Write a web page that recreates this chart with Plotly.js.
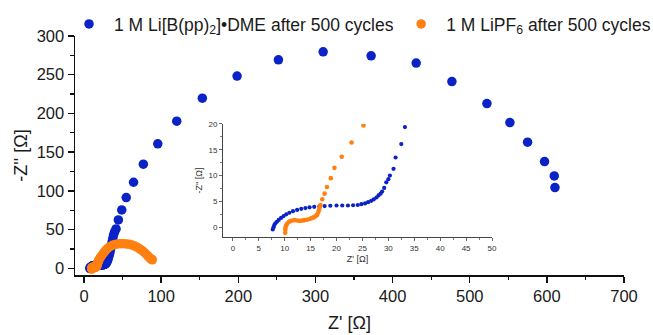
<!DOCTYPE html>
<html>
<head>
<meta charset="utf-8">
<script src="https://cdn.plot.ly/plotly-3.0.1.min.js"></script>
<style>html,body{margin:0;padding:0;background:#fff;}#chart{width:653px;height:335px;}</style>
</head>
<body>
<div id="chart"></div>
<script>
// Series names
const nameBlue = "1 M Li[B(pp)<sub>2</sub>]•DME after 500 cycles";
const nameOrange = "1 M LiPF<sub>6</sub> after 500 cycles";

// 1 M Li[B(pp)2]•DME after 500 cycles : Z' [Ω]
const blueZre = [7.7,7.85,8.0,8.2,8.5,8.85,9.3,9.8,10.3,10.9,11.6,12.4,13.2,14.0,14.8,15.7,16.7,17.7,18.8,20.0,21.1,22.2,23.2,24.1,24.8,25.5,26.1,26.7,27.2,27.7,28.1,28.5,28.8,29.2,29.6,30.0,30.3,31.0,31.4,32.5,33.2,
  34.0,34.8,35.6,36.4,37.3,38.3,39.6,41.5,44.5,48.9,54.7,64.2,76.9,95.6,120.2,153.4,198.4,252.0,310.0,372.2,430.6,476.9,522.3,552.1,575.0,597.0,609.6,610.5];
// -Z'' [Ω]
const blueZim = [-0.45,0.0,0.4,0.75,1.05,1.4,1.8,2.15,2.5,2.8,3.1,3.35,3.55,3.7,3.85,3.95,4.05,4.1,4.15,4.2,4.2,4.2,4.25,4.3,4.45,4.6,4.85,5.1,5.4,5.75,6.15,6.5,6.9,7.6,8.7,9.3,10.0,11.3,13.5,16.1,19.4,
  22.5,26.0,30.0,34.0,38.5,43.0,47.0,50.8,62.4,75.4,91.3,111.1,134.4,160.7,190.0,219.7,248.2,269.2,279.6,274.4,265.0,241.2,212.7,188.2,162.8,137.8,119.3,104.2];

// 1 M LiPF6 after 500 cycles : Z' [Ω]
const orangeZre = [10.1,10.12,10.15,10.3,10.5,10.8,11.1,11.5,11.9,12.4,12.9,13.4,13.8,14.3,14.8,15.2,15.6,15.9,16.2,16.45,16.6,16.75,16.9,17.25,17.7,18.15,18.9,19.6,21.0,22.9,25.2,
  27.8,30.5,33.5,36.8,40.2,43.8,47.5,51.2,54.9,58.6,62.2,65.7,69.0,72.2,75.2,78.0,80.6,82.9,84.9,86.5,87.8,88.5];
// -Z'' [Ω]
const orangeZim = [-1.1,-0.5,-0.06,0.35,0.7,1.0,1.2,1.3,1.36,1.3,1.22,1.28,1.36,1.45,1.6,1.75,1.9,2.1,2.33,2.8,3.3,3.8,4.3,5.4,6.5,7.8,9.5,11.5,13.65,16.4,19.7,
  22.8,25.6,27.9,29.6,30.8,31.5,31.8,31.8,31.5,30.9,29.9,28.6,27.0,25.1,23.0,20.6,18.1,15.7,13.6,12.1,11.5,10.9];

const colBlue = "#0a22c6";
const colOrange = "#ff8010";
const fontFam = "Arial, 'Liberation Sans', sans-serif";

const traces = [
  {x: blueZre, y: blueZim, type: "scatter", mode: "markers", name: nameBlue,
   marker: {color: colBlue, size: 9.5}, xaxis: "x", yaxis: "y", legend: "legend", cliponaxis: false},
  {x: orangeZre, y: orangeZim, type: "scatter", mode: "markers", name: nameOrange,
   marker: {color: colOrange, size: 9.5}, xaxis: "x", yaxis: "y", legend: "legend2", cliponaxis: false},
  {x: blueZre, y: blueZim, type: "scatter", mode: "markers", showlegend: false,
   marker: {color: colBlue, size: 4.2}, xaxis: "x2", yaxis: "y2"},
  {x: orangeZre, y: orangeZim, type: "scatter", mode: "markers", showlegend: false,
   marker: {color: colOrange, size: 4.6}, xaxis: "x2", yaxis: "y2"}
];

const mainAxis = {
  showgrid: false, zeroline: false, showline: true, linecolor: "#111", linewidth: 1.5,
  ticks: "outside", ticklen: 6, tickwidth: 1.5, tickcolor: "#111",
  tickfont: {family: fontFam, size: 16.5, color: "#1a1a1a"},
  minor: {ticks: "outside", ticklen: 3.5, tickwidth: 1.2, tickcolor: "#111", showgrid: false}
};
const insetAxis = {
  showgrid: false, zeroline: false, showline: true, linecolor: "#444", linewidth: 1,
  ticks: "outside", ticklen: 3, tickwidth: 0.8, tickcolor: "#444",
  tickfont: {family: fontFam, size: 8, color: "#333"},
  minor: {ticks: "outside", ticklen: 2, tickwidth: 0.7, tickcolor: "#444", showgrid: false}
};

const layout = {
  width: 653, height: 335,
  margin: {l: 75, r: 29, t: 36, b: 60, autoexpand: false},
  paper_bgcolor: "#fff", plot_bgcolor: "rgba(0,0,0,0)",
  font: {family: fontFam, color: "#1a1a1a"},
  xaxis: Object.assign({}, mainAxis, {
    range: [-11.7, 700], dtick: 100, tick0: 0, minor: Object.assign({}, mainAxis.minor, {dtick: 50}),
    title: {text: "Z' [Ω]", font: {family: fontFam, size: 18, color: "#1a1a1a"}, standoff: 12}
  }),
  yaxis: Object.assign({}, mainAxis, {
    range: [-8.7, 300], dtick: 50, tick0: 0, minor: Object.assign({}, mainAxis.minor, {dtick: 25}),
    title: {text: "-Z'' [Ω]", font: {family: fontFam, size: 18, color: "#1a1a1a"}, standoff: 4}
  }),
  xaxis2: Object.assign({}, insetAxis, {
    domain: [0.2696, 0.7596], anchor: "y2", range: [-1.9, 50], dtick: 5, tick0: 0,
    minor: Object.assign({}, insetAxis.minor, {dtick: 2.5}),
    title: {text: "Z' [Ω]", font: {family: fontFam, size: 9, color: "#333"}, standoff: 4}
  }),
  yaxis2: Object.assign({}, insetAxis, {
    domain: [0.159, 0.632], anchor: "x2", range: [-1.9, 20], dtick: 5, tick0: 0,
    minor: Object.assign({}, insetAxis.minor, {dtick: 2.5}),
    title: {text: "-Z'' [Ω]", font: {family: fontFam, size: 9, color: "#333"}, standoff: 4}
  }),
  legend: {orientation: "h", x: -0.020, xanchor: "left", y: 1.05, yanchor: "middle", itemwidth: 40,
           bgcolor: "rgba(0,0,0,0)", font: {family: fontFam, size: 17.5, color: "#1a1a1a"}},
  legend2: {orientation: "h", x: 0.585, xanchor: "left", y: 1.05, yanchor: "middle", itemwidth: 40,
           bgcolor: "rgba(0,0,0,0)", font: {family: fontFam, size: 17.5, color: "#1a1a1a"}},
  showlegend: true
};

Plotly.newPlot("chart", traces, layout, {displayModeBar: false, staticPlot: true});
</script>
</body>
</html>
